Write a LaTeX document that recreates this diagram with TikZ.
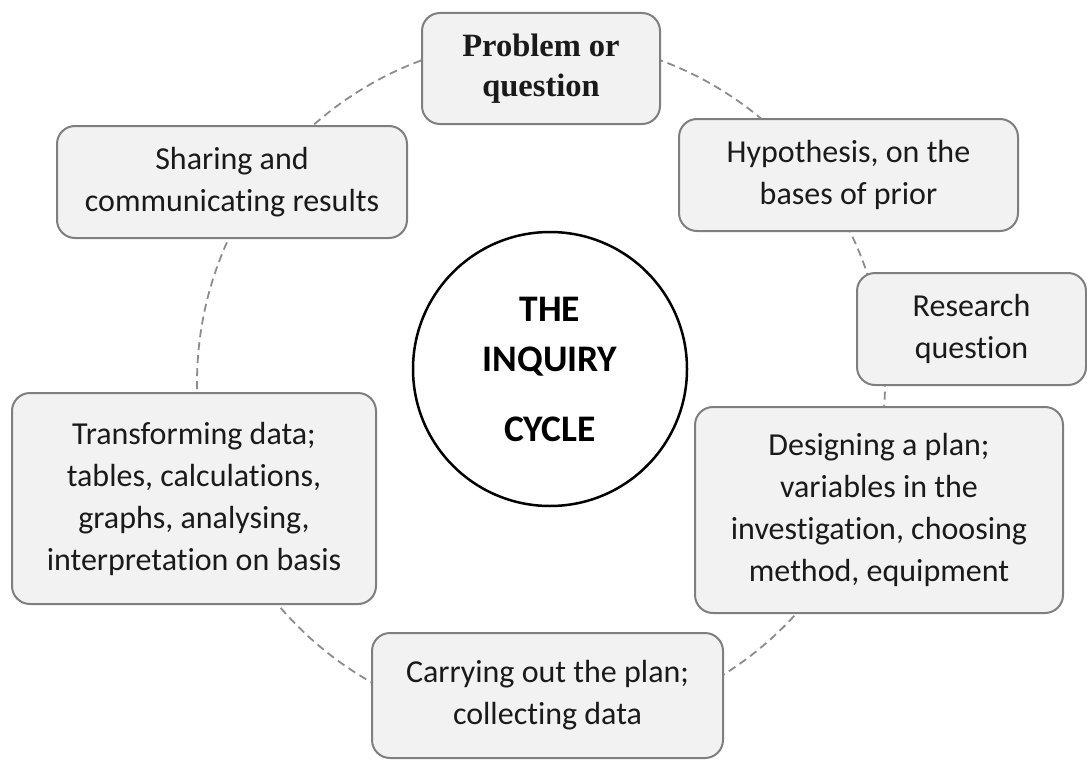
\documentclass[tikz,border=0pt]{standalone}
\usepackage{fontspec}
\setmainfont[Ligatures=NoCommon]{Carlito}
\newfontfamily\serifb{Liberation Serif}
\definecolor{boxfill}{HTML}{F2F2F2}
\definecolor{boxline}{HTML}{7F7F7F}
\definecolor{ringc}{HTML}{8C8C8C}
\definecolor{txt}{HTML}{1A1A1A}
\tikzset{
  stage/.style={draw=boxline, line width=2pt, fill=boxfill, rounded corners=18pt,
    align=center, inner sep=0pt, text=txt, font=\fontsize{32}{42}\selectfont,
    execute at begin node={\rule{0pt}{29pt}}},
  ring/.style={draw=ringc, line width=1.8pt, dash pattern=on 8pt off 5pt},
}
\begin{document}
\begin{tikzpicture}[x=1pt,y=-1pt]
\useasboundingbox (0,0) rectangle (1087,760);
% dashed cycle behind the stages
\coordinate (ringc) at (541,383);
\draw[ring] (ringc) circle[radius=344pt];
% stages
\node[stage, minimum width=238pt, minimum height=111pt, font=\serifb\bfseries\fontsize{32.5}{40}\selectfont] (prob) at (541,68.5) {Problem or\\question};
\node[stage, minimum width=339pt, minimum height=112pt] (hyp) at (848.5,175) {Hypothesis, on the\\bases of prior};
\node[stage, minimum width=229pt, minimum height=112pt] (res) at (971.5,329) {Research\\question};
\node[stage, minimum width=368pt, minimum height=206pt] (des) at (879,510) {Designing a plan;\\variables in the\\investigation, choosing\\method, equipment};
\node[stage, minimum width=351pt, minimum height=125pt] (car) at (547.5,695.5) {Carrying out the plan;\\collecting data};
\node[stage, minimum width=364pt, minimum height=211pt] (tra) at (194,498.5) {Transforming data;\\tables, calculations,\\graphs, analysing,\\interpretation on basis};
\node[stage, minimum width=350pt, minimum height=112pt] (sha) at (232,182) {Sharing and\\communicating results};
% centre
\node[circle, draw=black, line width=2.5pt, fill=white, minimum size=274pt, inner sep=0pt, align=center,
  font=\bfseries\fontsize{37.5}{50}\selectfont] (core) at (550,369) {THE\\INQUIRY\\[20pt]CYCLE};
\end{tikzpicture}
\end{document}
